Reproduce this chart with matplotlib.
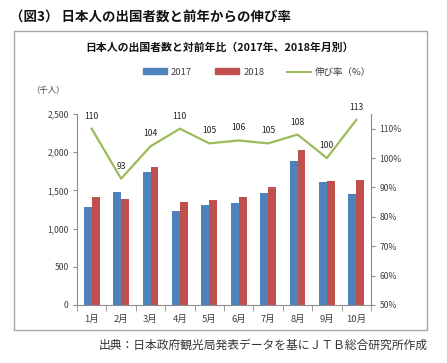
import matplotlib
matplotlib.use("Agg")
import matplotlib.pyplot as plt
from matplotlib.patches import Rectangle, Patch
from matplotlib.lines import Line2D
import numpy as np

plt.rcParams['font.family'] = ['Noto Sans CJK JP', 'DejaVu Sans']

# data (thousand persons, growth %)
months = ['1月', '2月', '3月', '4月', '5月', '6月', '7月', '8月', '9月', '10月']
visitors_2017 = [1289, 1485, 1745, 1230, 1309, 1331, 1472, 1882, 1614, 1450]
visitors_2018 = [1418, 1388, 1802, 1348, 1378, 1414, 1549, 2025, 1617, 1636]
growth = [110, 93, 104, 110, 105, 106, 105, 108, 100, 113]

BLUE = '#4F81BD'
RED = '#C0504D'
GREEN = '#9BBB59'
AXIS = '#8C8C8C'
TXT = '#404040'

fig = plt.figure(figsize=(4.47, 3.63), dpi=100)

# outer frame around the chart
fig.patches.append(Rectangle((14 / 447, 1 - 330 / 363), 413 / 447, 299 / 363,
                             transform=fig.transFigure, fill=False,
                             edgecolor='#A6A6A6', linewidth=1.0))

fig.text(10 / 447, 1 - 17 / 363, '（図3） 日本人の出国者数と前年からの伸び率',
         fontsize=9.7, fontweight='bold', ha='left', va='center', color='#111111')
fig.text(220 / 447, 1 - 48 / 363, '日本人の出国者数と対前年比（2017年、2018年月別）',
         fontsize=7.8, fontweight='bold', ha='center', va='center', color='#111111')
fig.text(48 / 447, 1 - 90 / 363, '（千人）', fontsize=6, ha='center', va='center', color=TXT)
fig.text(428 / 447, 1 - 345 / 363, '出典：日本政府観光局発表データを基にＪＴＢ総合研究所作成',
         fontsize=8.5, ha='right', va='center', color='#333333')

ax = fig.add_axes([77 / 447, 1 - 305 / 363, 294 / 447, 191 / 363])
x = np.arange(len(months))
w = 0.27
ax.bar(x - w / 2, visitors_2017, width=w, color=BLUE, zorder=2)
ax.bar(x + w / 2, visitors_2018, width=w, color=RED, zorder=2)
ax.set_xlim(-0.5, len(months) - 0.5)
ax.set_ylim(0, 2500)
ax.set_yticks(range(0, 2501, 500))
ax.set_yticklabels([f'{v:,}' for v in range(0, 2501, 500)])
ax.set_xticks(x)
ax.set_xticklabels(months)
ax.set_xticks(np.arange(-0.5, len(months)), minor=True)
ax.tick_params(axis='x', which='major', length=0, labelsize=6.8, pad=7, colors=TXT)
ax.tick_params(axis='x', which='minor', length=4, color=AXIS, direction='out')
ax.tick_params(axis='y', length=3, color=AXIS, labelsize=6.2, labelcolor=TXT, pad=3)
for s in ['top', 'right']:
    ax.spines[s].set_visible(False)
for s in ['left', 'bottom']:
    ax.spines[s].set_color(AXIS)
    ax.spines[s].set_linewidth(0.8)

ax2 = ax.twinx()
ax2.plot(x, growth, color=GREEN, linewidth=1.6, zorder=3)
for xi, g in zip(x, growth):
    ax2.annotate(str(g), (xi, g), xytext=(0, 9), textcoords='offset points',
                 ha='center', va='center', fontsize=6.2, color='#222222')
ax2.set_ylim(50, 115)
ax2.set_yticks(range(50, 111, 10))
ax2.set_yticklabels([f'{v}%' for v in range(50, 111, 10)])
ax2.tick_params(axis='y', length=3, color=AXIS, labelsize=6.2, labelcolor=TXT, pad=3)
for s in ['top', 'left', 'bottom']:
    ax2.spines[s].set_visible(False)
ax2.spines['right'].set_color(AXIS)
ax2.spines['right'].set_linewidth(0.8)

handles = [Patch(color=BLUE), Patch(color=RED), Line2D([], [], color=GREEN, linewidth=1.4)]
fig.legend(handles, ['2017', '2018', '伸び率（%）'], loc='center',
           bbox_to_anchor=(257 / 447, 1 - 72 / 363), ncol=3, frameon=False,
           fontsize=6.8, handlelength=2.6, handleheight=0.5, handletextpad=0.4,
           columnspacing=2.4, labelcolor=TXT)

fig.savefig('out.png', dpi=100)
